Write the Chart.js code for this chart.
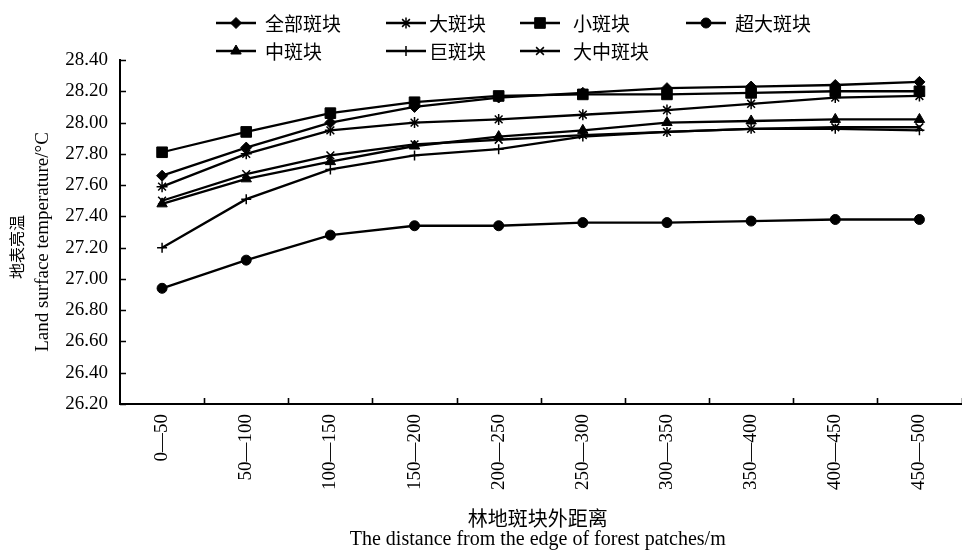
<!DOCTYPE html>
<html>
<head>
<meta charset="utf-8">
<script src="https://cdn.jsdelivr.net/npm/chart.js@4.4.1/dist/chart.umd.min.js"></script>
<style>
  html, body { margin: 0; padding: 0; background: #fff; overflow: hidden; }
  #wrap { position: relative; width: 962px; height: 551px; overflow: hidden; background: #fff; }
  #c { position: absolute; left: 0; top: 0; }
</style>
</head>
<body>
<div id="wrap"><canvas id="c" width="970" height="551"></canvas></div>
<script>
// Distance bands outside the forest patch edge (m)
const distanceBands = ['0—50', '50—100', '100—150', '150—200', '200—250',
                       '250—300', '300—350', '350—400', '400—450', '450—500'];

// Y-axis tick values (°C)
const yTickValues = [26.2, 26.4, 26.6, 26.8, 27.0, 27.2, 27.4, 27.6, 27.8, 28.0, 28.2, 28.4];

// Land surface brightness temperature per patch class (°C)
const allPatches    = [27.66, 27.84, 28.00, 28.10, 28.16, 28.19, 28.22, 28.23, 28.24, 28.26];
const largePatches  = [27.59, 27.80, 27.95, 28.00, 28.02, 28.05, 28.08, 28.12, 28.16, 28.17];
const smallPatches  = [27.81, 27.94, 28.06, 28.13, 28.17, 28.18, 28.18, 28.19, 28.20, 28.20];
const xlargePatches = [26.94, 27.12, 27.28, 27.34, 27.34, 27.36, 27.36, 27.37, 27.38, 27.38];
const mediumPatches = [27.48, 27.64, 27.75, 27.85, 27.91, 27.95, 28.00, 28.01, 28.02, 28.02];
const hugePatches   = [27.20, 27.51, 27.70, 27.79, 27.83, 27.91, 27.94, 27.96, 27.96, 27.95];
const largeMedPatches = [27.50, 27.67, 27.79, 27.86, 27.89, 27.92, 27.94, 27.96, 27.97, 27.97];

const seriesNames = ['全部斑块', '大斑块', '小斑块', '超大斑块', '中斑块', '巨斑块', '大中斑块'];
const seriesValues = [allPatches, largePatches, smallPatches, xlargePatches, mediumPatches, hugePatches, largeMedPatches];
const seriesMarkers = ['rectRot', 'star', 'rect', 'circle', 'triangle', 'cross', 'crossRot'];
const markerRadius = { rectRot: 5.5, star: 5.5, rect: 7.5, circle: 5, triangle: 6, cross: 5, crossRot: 5.5 };

const SERIF = "'Liberation Serif', 'Times New Roman', serif";
const CJK = "'Noto Sans CJK SC', sans-serif";

const datasets = seriesNames.map((name, i) => {
  const style = seriesMarkers[i];
  const hollow = ['star', 'cross', 'crossRot'].includes(style);
  return {
    label: name,
    data: seriesValues[i],
    borderColor: '#000',
    backgroundColor: '#000',
    borderWidth: 2.3,
    tension: 0,
    pointStyle: style,
    pointRadius: markerRadius[style],
    pointHoverRadius: markerRadius[style],
    pointBackgroundColor: '#000',
    pointBorderColor: '#000',
    pointBorderWidth: hollow ? 1.5 : 1
  };
});

// Legend laid out in two rows above the plot
const legendCols = [
  { lineStart: 216, textStart: 265 },
  { lineStart: 386, textStart: 429 },
  { lineStart: 520, textStart: 573 },
  { lineStart: 686, textStart: 735 }
];
const legendRows = [23, 51];
const legendLayout = [[0, 0], [0, 1], [0, 2], [0, 3], [1, 0], [1, 1], [1, 2]];

const legendPlugin = {
  id: 'twoRowLegend',
  afterDraw(chart) {
    const ctx = chart.ctx;
    ctx.save();
    chart.data.datasets.forEach((ds, i) => {
      const [r, c] = legendLayout[i];
      const y = legendRows[r];
      const col = legendCols[c];
      ctx.strokeStyle = '#000';
      ctx.lineWidth = 2.6;
      ctx.beginPath();
      ctx.moveTo(col.lineStart, y);
      ctx.lineTo(col.lineStart + 40, y);
      ctx.stroke();
      ctx.fillStyle = '#000';
      ctx.lineWidth = ds.pointBorderWidth;
      Chart.helpers.drawPoint(ctx, {
        pointStyle: ds.pointStyle, radius: ds.pointRadius, rotation: 0, borderWidth: ds.pointBorderWidth
      }, col.lineStart + 20, y);
      ctx.font = '19px ' + CJK;
      ctx.textAlign = 'left';
      ctx.textBaseline = 'middle';
      ctx.fillText(ds.label, col.textStart, y + 1);
    });
    ctx.restore();
  }
};

// Tick marks pointing into the plot area, plus axis titles
const axesDecor = {
  id: 'axesDecor',
  afterDraw(chart) {
    const ctx = chart.ctx;
    const xs = chart.scales.x, ys = chart.scales.y;
    const area = chart.chartArea;
    ctx.save();
    ctx.strokeStyle = '#000';
    ctx.lineWidth = 1.6;
    ctx.beginPath();
    yTickValues.forEach(v => {
      const py = Math.round(ys.getPixelForValue(v)) + 0.5;
      ctx.moveTo(area.left, py);
      ctx.lineTo(area.left + 6, py);
    });
    const half = (xs.getPixelForValue(1) - xs.getPixelForValue(0)) / 2;
    distanceBands.forEach((_, i) => {
      const px = Math.round(xs.getPixelForValue(i) + half) + 0.5;
      ctx.moveTo(px, area.bottom);
      ctx.lineTo(px, area.bottom - 6);
    });
    ctx.stroke();

    ctx.fillStyle = '#000';
    ctx.textAlign = 'center';
    ctx.textBaseline = 'middle';
    const cx = (area.left + area.right) / 2 - 3;
    ctx.font = '20px ' + CJK;
    ctx.fillText('林地斑块外距离', cx, 518);
    ctx.font = '20px ' + SERIF;
    ctx.fillText('The distance from the edge of forest patches/m', cx, 540);

    ctx.save();
    ctx.translate(17, 247);
    ctx.rotate(-Math.PI / 2);
    ctx.font = '16px ' + CJK;
    ctx.fillText('地表亮温', 0, 0);
    ctx.restore();
    ctx.save();
    ctx.translate(43, 242);
    ctx.rotate(-Math.PI / 2);
    ctx.font = '19px ' + SERIF;
    ctx.fillText('Land surface temperature/°C', 0, 0);
    ctx.restore();
    ctx.restore();
  }
};

new Chart(document.getElementById('c'), {
  type: 'line',
  data: { labels: distanceBands, datasets },
  options: {
    responsive: false,
    animation: false,
    devicePixelRatio: 1,
    layout: { padding: { top: 60, left: 0, right: 0, bottom: 0 } },
    plugins: { legend: { display: false }, tooltip: { enabled: false } },
    scales: {
      x: {
        type: 'category',
        offset: true,
        grid: { display: false, drawTicks: false },
        border: { display: true, color: '#000', width: 2 },
        ticks: {
          color: '#000',
          font: { family: SERIF, size: 19 },
          minRotation: 90,
          maxRotation: 90,
          autoSkip: false,
          padding: 10
        },
        afterFit(scale) { scale.height = 147; }
      },
      y: {
        min: 26.2,
        max: 28.4,
        grid: { display: false, drawTicks: false },
        border: { display: true, color: '#000', width: 2 },
        afterBuildTicks(scale) { scale.ticks = yTickValues.map(v => ({ value: v })); },
        ticks: {
          color: '#000',
          font: { family: SERIF, size: 19 },
          padding: 12,
          callback: v => Number(v).toFixed(2)
        },
        afterFit(scale) { scale.width = 120; }
      }
    }
  },
  plugins: [legendPlugin, axesDecor]
});
</script>
</body>
</html>
